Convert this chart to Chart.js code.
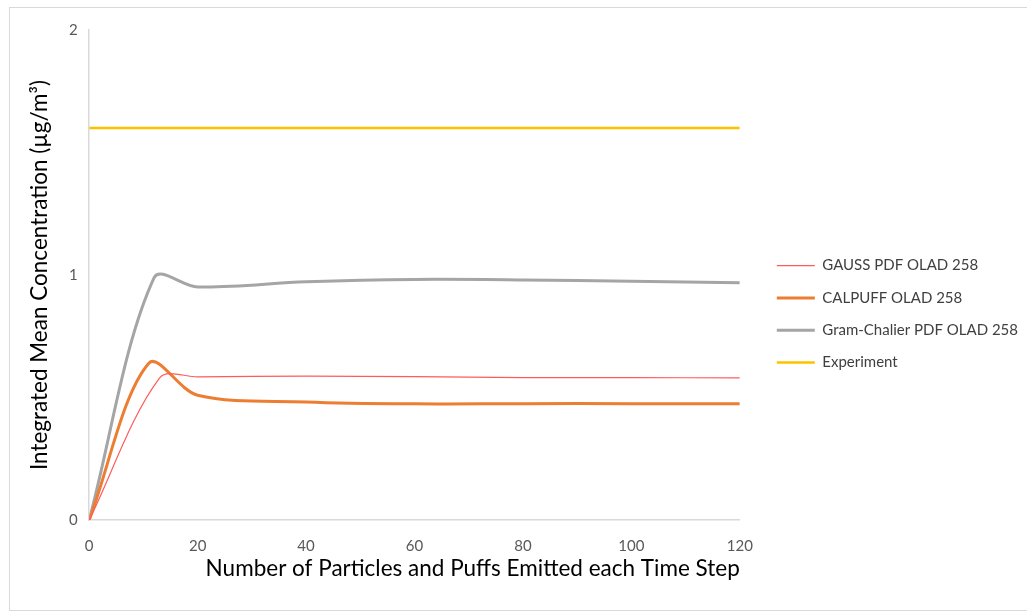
<!DOCTYPE html>
<html>
<head>
<meta charset="utf-8">
<script src="https://cdn.jsdelivr.net/npm/chart.js@4.4.0/dist/chart.umd.min.js"></script>
<style>
    html, body { margin: 0; background: #fff; overflow: hidden; }
    #wrap { position: absolute; left: 0; top: 0; width: 1027px; height: 615px; }
    #frame {
        position: absolute; left: 9px; top: 7px;
        width: 1018px; height: 604px;
        border: 1px solid #d9d9d9; border-right: none; box-sizing: border-box;
        pointer-events: none;
    }
</style>
</head>
<body>
<div id="wrap"><canvas id="chart"></canvas></div>
<div id="frame"></div>
<script>
// Datos
const gaussX = [0, 13, 20, 40, 60, 80, 100, 120];
const gaussPdf = [0, 0.58, 0.584, 0.587, 0.585, 0.581, 0.581, 0.58];
const calpuffX = [0, 11, 20, 40, 60, 80, 100, 120];
const calpuff = [0, 0.64, 0.509, 0.482, 0.474, 0.475, 0.475, 0.475];
const gramX = [0, 12, 20, 40, 60, 80, 100, 120];
const gramChalier = [0, 0.99, 0.951, 0.972, 0.982, 0.98, 0.974, 0.968];
const experimentX = [0, 120];
const experiment = [1.6, 1.6];
const seriesNames = ['GAUSS PDF OLAD 258', 'CALPUFF OLAD 258', 'Gram-Chalier PDF OLAD 258', 'Experiment'];

function toPoints(xs, values) {
    return values.map((v, i) => ({ x: xs[i], y: v }));
}

const font = 'Lato, "Open Sans", sans-serif';

// Caja vacía entre el área del gráfico y la leyenda
const legendGap = {
    id: 'legendGap',
    beforeInit(chart) {
        Chart.layouts.addBox(chart, {
            position: 'right',
            weight: 500,
            fullSize: false,
            options: {},
            width: 0,
            height: 0,
            isHorizontal() { return false; },
            update(maxWidth, maxHeight) {
                this.width = 19.7;
                this.height = maxHeight;
            },
            draw() {}
        });
    }
};

new Chart(document.getElementById('chart'), {
    type: 'line',
    data: {
        datasets: [{
            label: seriesNames[0],
            data: toPoints(gaussX, gaussPdf),
            borderColor: '#ff5b5b',
            borderWidth: 1.2,
            tension: 0.33
        }, {
            label: seriesNames[1],
            data: toPoints(calpuffX, calpuff),
            borderColor: '#ed7d31',
            borderWidth: 3,
            tension: 0.33
        }, {
            label: seriesNames[2],
            data: toPoints(gramX, gramChalier),
            borderColor: '#a5a5a5',
            borderWidth: 3,
            tension: 0.33
        }, {
            label: seriesNames[3],
            data: toPoints(experimentX, experiment),
            borderColor: '#ffc000',
            borderWidth: 2.5,
            tension: 0
        }]
    },
    plugins: [legendGap],
    options: {
        responsive: true,
        maintainAspectRatio: false,
        animation: false,
        elements: {
            point: { radius: 0, hoverRadius: 0 }
        },
        layout: {
            padding: { top: 30, left: 22.5, right: -1, bottom: 27 }
        },
        plugins: {
            legend: {
                position: 'right',
                maxWidth: 320,
                title: {
                    // título vacío: baja un poco las entradas
                    display: true,
                    text: ' ',
                    padding: 0,
                    font: { family: font, size: 8.5 }
                },
                labels: {
                    usePointStyle: true,
                    pointStyle: 'line',
                    pointStyleWidth: 38,
                    color: '#404040',
                    padding: 17.3,
                    font: { family: font, size: 15 }
                }
            },
            tooltip: { enabled: false }
        },
        scales: {
            x: {
                type: 'linear',
                min: 0,
                max: 120,
                ticks: {
                    stepSize: 20,
                    color: '#595959',
                    padding: 17,
                    font: { family: font, size: 15 }
                },
                grid: { display: false, drawTicks: false },
                border: { display: true, color: '#d9d9d9', width: 1.5 },
                title: {
                    display: true,
                    align: 'end',
                    text: 'Number of Particles and Puffs Emitted each Time Step',
                    color: '#000',
                    padding: { top: -17, bottom: 6 },
                    font: { family: font, size: 22.5 }
                }
            },
            y: {
                min: 0,
                max: 2,
                ticks: {
                    stepSize: 1,
                    color: '#595959',
                    padding: 11.5,
                    font: { family: font, size: 15 }
                },
                grid: { display: false, drawTicks: false },
                border: { display: true, color: '#d9d9d9', width: 1.5 },
                title: {
                    display: true,
                    text: 'Integrated Mean Concentration (µg/m³)',
                    color: '#000',
                    font: { family: font, size: 22.5 }
                }
            }
        }
    }
});
</script>
</body>
</html>
